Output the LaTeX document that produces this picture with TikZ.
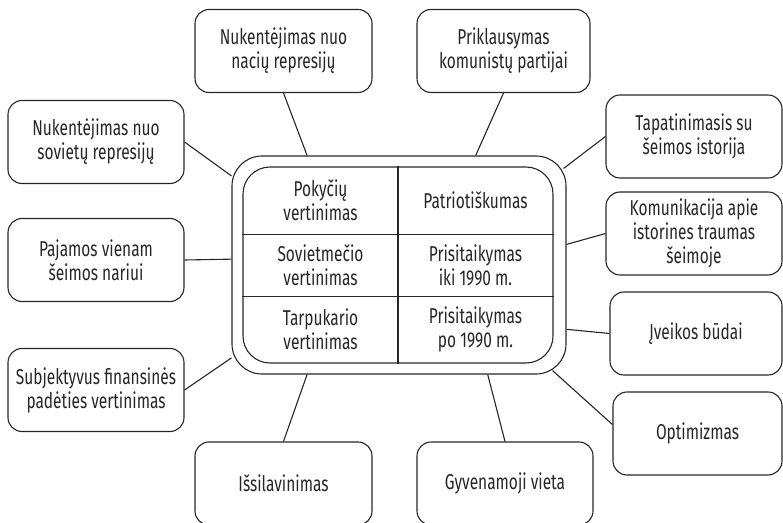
\documentclass[tikz,border=0pt]{standalone}
\usepackage{fontspec}
\setmainfont{Fira Sans}[FakeStretch=0.72]
\usetikzlibrary{shapes,calc}

\begin{document}
\begin{tikzpicture} [x=1pt, y=1pt, line width=1.1pt, draw=black!85,
  box/.style={rectangle, draw=black!85, rounded corners=14pt, align=center, minimum width=176pt, minimum height=83pt, inner sep=2pt},
  hub/.style={rectangle, draw=black!85, rounded corners=30pt, minimum width=334pt, minimum height=218pt},
  grid/.style={rectangle, draw=black!85, rounded corners=27pt, minimum width=310pt, minimum height=196pt},
  cell/.style={rectangle, align=center, minimum width=155pt, inner sep=0pt}]
\useasboundingbox (0,0) rectangle (783,522);
{\fontsize{21.5}{24}\selectfont\color{black!85}

	% centre
	\node [hub] (hub) at (399,257) {};
	\node [grid] (table) at (398,257) {};
	\node [cell, minimum height=67pt] (c1a) at (320.5,321.5) {Pokyčių\\vertinimas};
	\node [cell, minimum height=67pt, right of=c1a, node distance=155pt] (c1b) {Patriotiškumas};
	\node [cell, minimum height=62pt, below of=c1a, node distance=64.5pt] (c2a) {Sovietmečio\\vertinimas};
	\node [cell, minimum height=62pt, right of=c2a, node distance=155pt] (c2b) {Prisitaikymas\\iki 1990 m.};
	\node [cell, minimum height=67pt, below of=c2a, node distance=64.5pt] (c3a) {Tarpukario\\vertinimas};
	\node [cell, minimum height=67pt, right of=c3a, node distance=155pt] (c3b) {Prisitaikymas\\po 1990 m.};
	\draw (table.north) -- (table.south);
	\draw (c1a.south west) -- (c1b.south east);
	\draw (c2a.south west) -- (c2b.south east);

	% left column
	\node [box] (sov) at (96,380) {Nukentėjimas nuo\\sovietų represijų};
	\node [box] (paj) at (96,262) {Pajamos vienam\\šeimos nariui};
	\node [box] (subj) at (96,132) {Subjektyvus finansinės\\padėties vertinimas};

	% top and bottom
	\node [box, minimum width=177pt] (nac) at (283.5,471) {Nukentėjimas nuo\\nacių represijų};
	\node [box, minimum width=173pt] (part) at (503.5,471) {Priklausymas\\komunistų partijai};
	\node [box, minimum width=177pt] (isl) at (283.5,38.5) {Išsilavinimas};
	\node [box, minimum width=176pt] (gyv) at (505,38.5) {Gyvenamoji vieta};

	% right column
	\node [box] (tap) at (694,385.5) {Tapatinimasis su\\šeimos istorija};
	\node [box] (kom) at (694,288.5) {Komunikacija apie\\istorines traumas\\šeimoje};
	\node [box, minimum width=172pt] (ive) at (696,188.5) {Įveikos būdai};
	\node [box, minimum width=169pt] (opt) at (697.5,88.5) {Optimizmas};

	% draw edges
	\draw (nac.south) -- (hub.130);
	\draw (part.south) -- (hub.55);
	\draw (sov.east) -- (hub.152);
	\draw (paj.east) -- (hub.178);
	\draw (subj.east) -- (hub.209);
	\draw (tap.west) -- ($(hub.north east)+(-3,-13)$);
	\draw (kom.west) -- (hub.7);
	\draw (ive.west) -- (hub.339);
	\draw (opt.174) -- ($(hub.south east)+(-14,4)$);
	\draw (isl.north) -- (hub.230);
	\draw (gyv.north) -- (hub.309);
}
\end{tikzpicture}
\end{document}
